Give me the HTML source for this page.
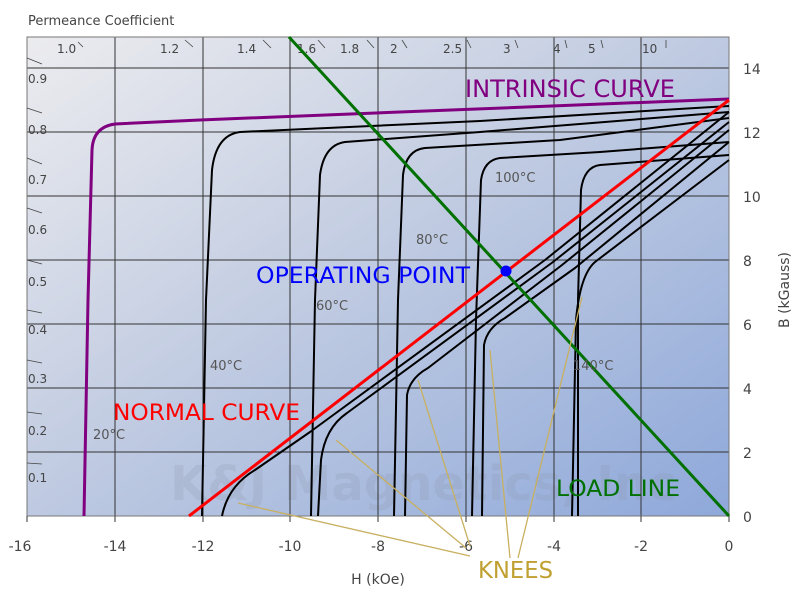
<!DOCTYPE html>
<html><head><meta charset="utf-8"><style>
html,body{margin:0;padding:0;background:#fff;width:800px;height:600px;overflow:hidden}
svg text{font-family:"DejaVu Sans","Liberation Sans",sans-serif}
</style></head><body>
<svg width="800" height="600" viewBox="0 0 800 600" xmlns="http://www.w3.org/2000/svg">
<defs>
<linearGradient id="bg" x1="0" y1="0" x2="1" y2="1">
<stop offset="0" stop-color="#ececef"/>
<stop offset="0.45" stop-color="#c3cde2"/>
<stop offset="1" stop-color="#8ea8da"/>
</linearGradient>
</defs>
<rect width="800" height="600" fill="#fff"/>
<rect x="27" y="37" width="702" height="479" fill="url(#bg)"/>
<text x="170" y="500" font-size="48" font-weight="bold" fill="#8a93a8" opacity="0.2" font-family="Liberation Sans">K&amp;J Magnetics, Inc</text>
<g stroke="#333" stroke-width="1" fill="none">
<path d="M115,37V516M203,37V516M290,37V516M378,37V516M466,37V516M554,37V516M641,37V516"/>
<path d="M27,68H729M27,132H729M27,196H729M27,260H729M27,324H729M27,388H729M27,452H729"/>
<rect x="27" y="37" width="702" height="479" stroke="#777"/>
<path d="M27,516V522M115,516V522M203,516V522M290,516V522M378,516V522M466,516V522M554,516V522M641,516V522M729,516V522"/>
</g>
<g font-size="12" fill="#444">
<text x="28" y="25" font-size="13">Permeance Coefficient</text>
<text x="57" y="53">1.0</text><text x="160" y="53">1.2</text><text x="237" y="53">1.4</text><text x="297" y="53">1.6</text><text x="340" y="53">1.8</text><text x="390" y="53">2</text><text x="443" y="53">2.5</text><text x="503" y="53">3</text><text x="553" y="53">4</text><text x="588" y="53">5</text><text x="642" y="53">10</text>
<text x="28" y="83">0.9</text><text x="28" y="134">0.8</text><text x="28" y="184">0.7</text><text x="28" y="234">0.6</text><text x="28" y="286">0.5</text><text x="28" y="334">0.4</text><text x="28" y="383">0.3</text><text x="28" y="435">0.2</text><text x="28" y="482">0.1</text>
</g>
<g stroke="#444" stroke-width="0.8">
<path d="M78,42l5,5M185,40l8,7M263,40l8,8M318,40l7,8M367,40l7,8M402,40l5,8M467,40l4,8M515,40l3,8M565,40l2,8M601,40l2,8M666,40l0,8"/>
<path d="M27,58l15,6M27,108l15,5M27,158l15,6M27,208l15,5M27,260l15,4M27,310l15,3M27,360l15,3M27,412l15,2M27,463l15,1"/>
</g>
<g fill="#444" font-size="14">
<text x="20" y="551" text-anchor="middle">-16</text><text x="115" y="551" text-anchor="middle">-14</text><text x="203" y="551" text-anchor="middle">-12</text><text x="290" y="551" text-anchor="middle">-10</text><text x="378" y="551" text-anchor="middle">-8</text><text x="466" y="551" text-anchor="middle">-6</text><text x="554" y="551" text-anchor="middle">-4</text><text x="641" y="551" text-anchor="middle">-2</text><text x="729" y="551" text-anchor="middle">0</text>
<text x="743" y="74">14</text><text x="743" y="138">12</text><text x="743" y="202">10</text><text x="743" y="266">8</text><text x="743" y="330">6</text><text x="743" y="394">4</text><text x="743" y="458">2</text><text x="743" y="522">0</text>
<text x="378" y="584" text-anchor="middle">H (kOe)</text>
<text transform="translate(789,290) rotate(-90)" text-anchor="middle">B (kGauss)</text>
</g>
<g fill="none" stroke-linejoin="round">
<path d="M84,516L88,300L92,150Q93,127 115,124L200,120L400,112L729,99" stroke="#800080" stroke-width="3"/>
<g stroke="#000" stroke-width="2">
<path d="M202,516L206,300L212,170Q216,135 240,132L480,121L729,106"/>
<path d="M311,516L315,300L320,175Q324,145 345,142L480,132L729,112"/>
<path d="M394,516L398,300L403,175Q406,150 425,148L560,140L729,118"/>
<path d="M472,516L476,320L481,180Q484,160 500,158L600,152L729,142"/>
<path d="M578,516L578,300L581,190Q584,167 600,165L729,155"/>
<path d="M222,516Q228,486 255,470L310,432L545,260L729,112"/>
<path d="M318,516L321,460Q325,428 347,413L553,262L729,122"/>
<path d="M405,516L407,395Q410,378 428,368L562,265L729,130"/>
<path d="M482,516L484,345Q487,328 505,318L575,268L729,142"/>
<path d="M572,516L576,320Q580,275 595,262L729,160"/>
</g>
<path d="M189,516L729,100" stroke="#ff0000" stroke-width="3"/>
<path d="M289,37L729,516" stroke="#007000" stroke-width="3"/>
<g stroke="#c8b060" stroke-width="1.3">
<path d="M470,556L238,503M466,548L336,440M470,546L418,380M510,558L490,350M518,558L582,297"/>
</g>
</g>
<circle cx="506" cy="271" r="5.5" fill="#0000ff"/>
<g font-size="13" fill="#555">
<text x="93" y="439">20°C</text><text x="210" y="370">40°C</text><text x="316" y="310">60°C</text><text x="416" y="244">80°C</text><text x="495" y="182">100°C</text><text x="573" y="370">140°C</text>
</g>
<text x="465" y="97" font-size="24" fill="#800080" textLength="210" lengthAdjust="spacingAndGlyphs">INTRINSIC CURVE</text>
<text x="256" y="283" font-size="22" fill="#0000ff" textLength="214" lengthAdjust="spacingAndGlyphs">OPERATING POINT</text>
<text x="113" y="420" font-size="22" fill="#ff0000" textLength="187" lengthAdjust="spacingAndGlyphs">NORMAL CURVE</text>
<text x="556" y="496" font-size="22" fill="#007000" textLength="124" lengthAdjust="spacingAndGlyphs">LOAD LINE</text>
<text x="478" y="578" font-size="23" fill="#c0a030" textLength="75" lengthAdjust="spacingAndGlyphs">KNEES</text>
</svg>
</body></html>
